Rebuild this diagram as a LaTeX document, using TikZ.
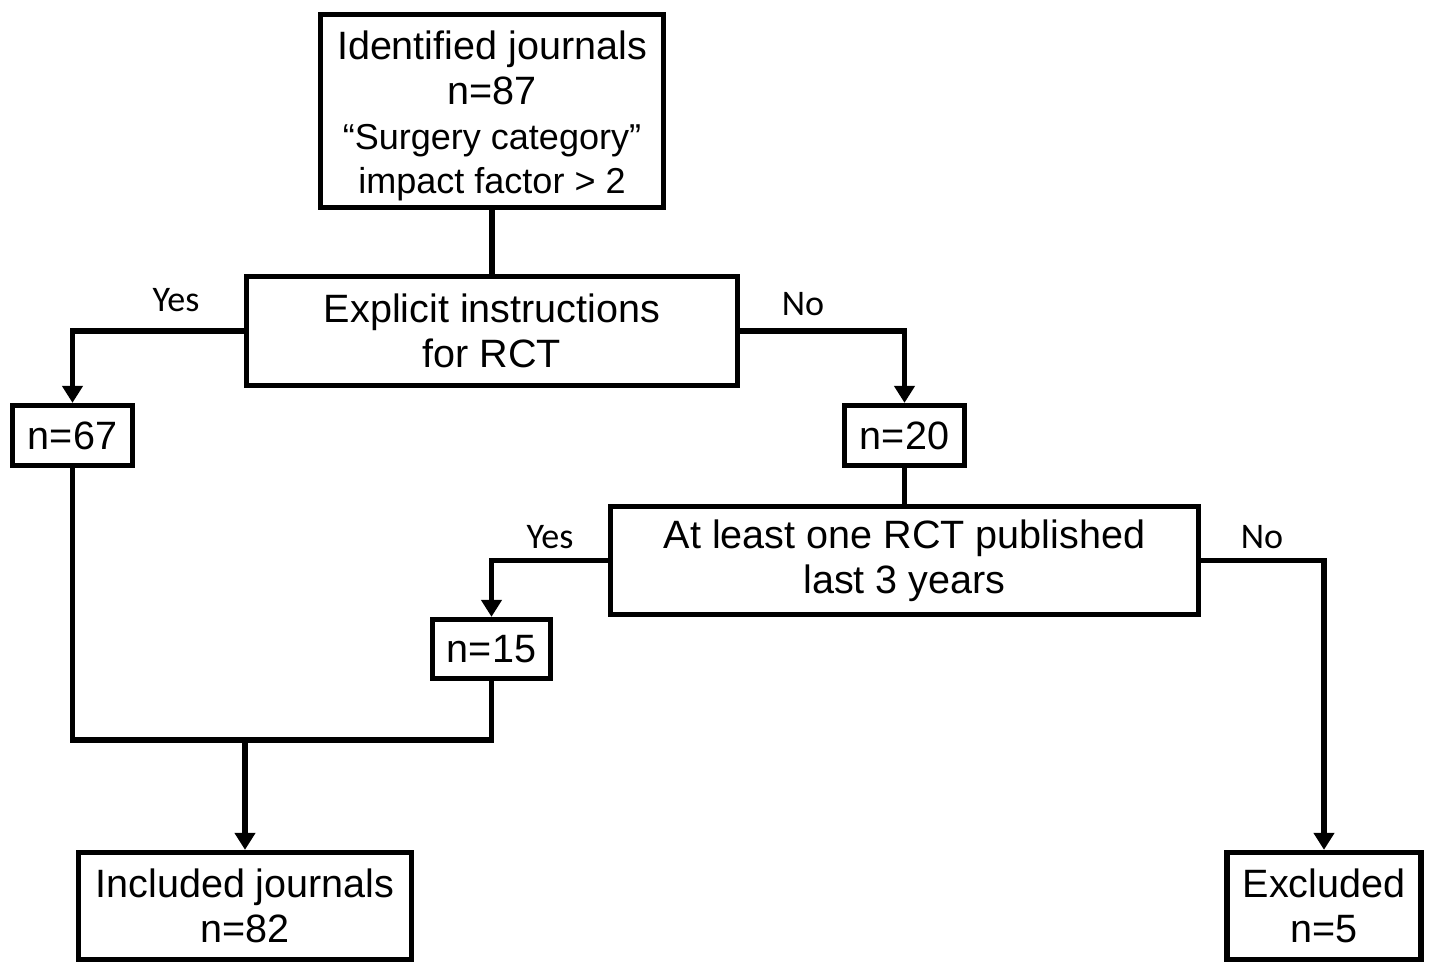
\documentclass[tikz,border=0pt]{standalone}
\usepackage{fontspec}
\setmainfont{Liberation Sans}
\newfontfamily\labelfont{Carlito}
\usetikzlibrary{arrows.meta,positioning}

\tikzset{
    box/.style={draw, line width=3pt, align=center, inner sep=0pt,
        font=\fontsize{22.5}{25.5}\selectfont},
    flow/.style={line width=3pt},
    arr/.style={flow, -{Triangle[width=0.4cm,length=0.34cm]}},
    branch/.style={font=\labelfont\fontsize{20.5}{24}\selectfont}
}

\begin{document}
\begin{tikzpicture}
    \useasboundingbox (0,0) rectangle (28.62,-19.28);

    \node[box, minimum width=6.86cm, minimum height=3.86cm] (identified) at (9.84,-2.22) {\rule{0pt}{22pt}Identified journals\\n=87\\\fontsize{20.5}{23}\selectfont ``Surgery category''\\\fontsize{20.5}{23}\selectfont impact factor > 2};
    \node[box, minimum width=9.82cm, minimum height=2.18cm] (explicit) at (9.84,-6.62) {Explicit instructions\\for RCT};
    \node[box, minimum width=2.4cm, minimum height=1.2cm] (yesrct) at (1.45,-8.71) {n=67};
    \node[box, minimum width=2.4cm, minimum height=1.2cm] (norct) at (18.09,-8.71) {n=20};
    \node[box, minimum width=11.76cm, minimum height=2.16cm] (published) at (18.09,-11.21) {At least one RCT published\\last 3 years};
    \node[box, minimum width=2.36cm, minimum height=1.18cm] (yespub) at (9.83,-12.98) {n=15};
    \node[box, minimum width=6.66cm, minimum height=2.14cm] (included) at (4.9,-18.12) {Included journals\\n=82};
    \node[box, minimum width=3.88cm, minimum height=2.14cm] (excluded) at (26.48,-18.12) {Excluded\\n=5};

    \node[branch] (yesA) at (3.52,-6.0) {Yes};
    \node[branch] (noA) at (16.06,-6.08) {No};
    \node[branch] (yesB) at (11.0,-10.74) {Yes};
    \node[branch] (noB) at (25.24,-10.74) {No};

    \coordinate (join) at (yespub.south |- 0,-14.8);
    \coordinate (merge) at (included.north |- join);

    \draw[flow] (identified) -- (explicit);
    \draw[arr] (explicit.west) -| (yesrct.north);
    \draw[arr] (explicit.east) -| (norct.north);
    \draw[flow] (norct) -- (published);
    \draw[arr] (published.west) -| (yespub.north);
    \draw[arr] (published.east) -| (excluded.north);
    \draw[flow] (yespub.south) -- (join) -| (yesrct.south);
    \draw[arr] (merge) -- (included.north);
\end{tikzpicture}
\end{document}
